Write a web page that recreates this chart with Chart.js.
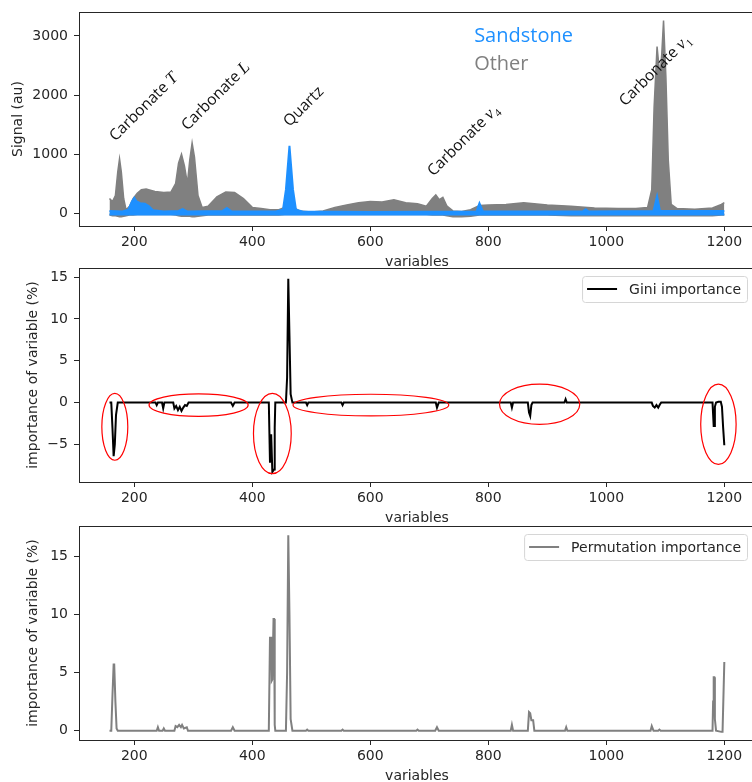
<!DOCTYPE html>
<html>
<head>
<meta charset="utf-8">
<script src="https://cdn.jsdelivr.net/npm/chart.js@4.4.0/dist/chart.umd.min.js"></script>
<style>
    html, body { margin: 0; padding: 0; background: #ffffff; overflow: hidden; width: 752px; height: 782px; }
    .panel { position: absolute; left: 0; }
</style>
</head>
<body>
<canvas id="spectra" class="panel" style="top:0px" width="760" height="271"></canvas>
<canvas id="gini" class="panel" style="top:256px" width="760" height="271"></canvas>
<canvas id="perm" class="panel" style="top:514px" width="760" height="271"></canvas>
<script>
// tick labels
const xTicks = [200, 400, 600, 800, 1000, 1200];
const signalTicks = [0, 1000, 2000, 3000];
const giniTicks = [-5, 0, 5, 10, 15];
const permTicks = [0, 5, 10, 15];

// top panel: spectra, drawn as envelopes of the overlapping curves
const otherX = [158, 163, 168, 172, 175, 178, 182, 186, 192, 198,
    205, 212, 220, 235, 250, 262, 270, 275, 280, 285,
    290, 294, 298, 302, 308, 315, 325, 340, 355, 370,
    385, 400, 415, 430, 445, 455, 460, 465, 470, 480,
    500, 520, 540, 560, 580, 600, 620, 640, 660, 680,
    695, 705, 711, 717, 723, 730, 740, 755, 770, 785,
    800, 830, 860, 900, 940, 980, 1020, 1050, 1070, 1077,
    1081, 1086, 1091, 1094, 1097, 1101, 1105, 1110, 1120, 1150,
    1180, 1195, 1200];
const otherHigh = [250, 200, 300, 700, 920, 700, 250, 60, 120, 250,
    340, 400, 410, 370, 350, 360, 500, 850, 1000, 800,
    500, 900, 1190, 950, 300, 100, 120, 280, 360, 350,
    250, 100, 80, 60, 60, 100, 150, 160, 100, 40,
    20, 40, 100, 140, 180, 200, 190, 230, 180, 160,
    120, 250, 310, 230, 270, 120, 40, 30, 60, 130,
    140, 150, 180, 140, 120, 90, 80, 80, 100, 400,
    1800, 2820, 2300, 2700, 3260, 2300, 900, 150, 80, 70,
    90, 150, 180];
const otherLow = [-30, -40, -40, -50, -60, -60, -50, -40, -30, -30,
    -20, -20, -20, -20, -20, -20, -30, -40, -50, -50,
    -50, -50, -60, -60, -50, -40, -30, -30, -30, -30,
    -30, -30, -30, -30, -30, -20, -20, -20, -20, -20,
    -20, -20, -20, -20, -20, -20, -20, -20, -20, -20,
    -20, -30, -30, -30, -30, -40, -60, -60, -50, -30,
    -30, -30, -30, -30, -40, -40, -40, -40, -40, -40,
    -40, -40, -40, -40, -40, -40, -40, -40, -40, -40,
    -40, -30, -30];

const sandX = [158, 180, 190, 196, 200, 204, 210, 218, 225, 232,
    250, 275, 282, 290, 350, 357, 365, 440, 452, 457,
    463, 469, 474, 485, 600, 780, 785, 791, 960, 965,
    970, 1080, 1086, 1091, 1200];
const sandHigh = [40, 30, 60, 200, 260, 200, 170, 160, 120, 50,
    30, 40, 70, 30, 40, 90, 30, 30, 60, 400,
    1140, 400, 60, 30, 20, 30, 170, 30, 30, 70,
    30, 40, 290, 40, 40];
const sandLow = [-20, -20, -15, -20, -20, -20, -20, -20, -20, -20,
    -20, -20, -15, -20, -20, -20, -20, -20, -20, -20,
    -20, -20, -20, -20, -20, -20, -20, -20, -20, -20,
    -20, -20, -20, -20, -20];

const groupNames = ['Sandstone', 'Other'];
const groupColors = ['#1e90ff', '#808080'];

// peak labels (baseline start, data coords)
const peakNames = ['Carbonate ', 'Carbonate ', 'Quartz', 'Carbonate ', 'Carbonate '];
const peakSymbols = ['T', 'L', '', '\u03BD', '\u03BD'];
const peakSubs = ['', '', '', '4', '1'];
const peakX = [168, 290, 463, 707, 1032];
const peakY = [1211, 1392, 1455, 619, 1804];

// middle panel: Gini importance
const giniX = [158, 161, 163, 165, 167, 169, 172, 236, 238, 240,
    247, 249, 251, 266, 268, 271, 274, 277, 280, 283,
    286, 289, 292, 364, 367, 370, 428, 430, 432, 433,
    434, 437, 438, 439, 457, 459, 461, 463, 465, 468,
    491, 493, 495, 551, 553, 555, 711, 713, 716, 838,
    840, 842, 867, 869, 871, 873, 875, 929, 931, 933,
    1077, 1079, 1082, 1085, 1088, 1091, 1093, 1180, 1182, 1183,
    1184, 1186, 1190, 1194, 1196, 1198, 1200];
const giniValues = [0, 0, -3, -6.4, -5, -1.5, 0, 0, -0.3, 0,
    0, -0.7, 0, 0, -0.7, -0.4, -0.9, -0.5, -1.0, -0.6,
    -0.3, -0.4, 0, 0, -0.4, 0, 0, -7.2, -3.8, -3.8,
    -8.3, -8.0, -3, 0, 0, 3, 14.8, 8, 1, 0,
    0, -0.3, 0, 0, -0.3, 0, 0, -0.6, 0, 0,
    -0.6, 0, 0, -1.2, -1.6, -0.3, 0, 0, 0.4, 0,
    0, -0.4, -0.6, -0.3, -0.6, -0.2, 0, 0, -2.8, -2.8,
    -0.5, 0, 0.1, 0.1, -0.5, -3, -5.1];

// red ellipses round the negative regions (centre, radii in data units)
const circleX = [167, 309, 434, 601, 887, 1190];
const circleY = [-2.9, -0.3, -3.7, -0.3, -0.2, -2.6];
const circleRx = [22, 84, 32, 132, 68, 30];
const circleRy = [4.0, 1.35, 4.8, 1.3, 2.4, 4.8];

// bottom panel: permutation importance
const permX = [158, 161, 163, 165, 166, 168, 170, 172, 238, 240,
    242, 248, 250, 252, 268, 270, 273, 276, 279, 281,
    284, 289, 291, 364, 367, 370, 428, 430, 432, 433,
    434, 436, 437, 438, 439, 457, 459, 461, 463, 465,
    468, 491, 493, 495, 551, 553, 555, 678, 680, 682,
    710, 713, 716, 838, 840, 842, 867, 869, 871, 873,
    876, 878, 930, 932, 934, 1075, 1077, 1080, 1088, 1090,
    1092, 1180, 1181, 1182, 1183, 1184, 1186, 1195, 1197, 1200];
const permValues = [0, 0, 3, 5.7, 5.7, 2.5, 0.2, 0, 0, 0.3,
    0, 0, 0.2, 0, 0, 0.4, 0.3, 0.5, 0.3, 0.5,
    0.2, 0.3, 0, 0, 0.3, 0, 0, 8.0, 8.0, 4.3,
    4.4, 9.6, 9.6, 0.5, 0, 0, 5, 16.8, 10, 1,
    0, 0, 0.1, 0, 0, 0.1, 0, 0, 0.1, 0,
    0, 0.3, 0, 0, 0.5, 0, 0, 1.6, 1.5, 0.9,
    0.9, 0, 0, 0.3, 0, 0, 0.4, 0, 0, 0.1,
    0, 0, 2.5, 4.6, 4.6, 1, 0, -0.1, -0.1, 5.9];

const tickFont = { family: '"DejaVu Sans", sans-serif', size: 14 };
const yTickFont = { family: '"DejaVu Sans", sans-serif', size: 14, lineHeight: 0.8 };
const inkColor = '#262626';

function points(xs, ys) {
    return xs.map((x, i) => ({ x: x, y: ys[i] }));
}

function fmt(value) {
    return value < 0 ? '\u2212' + Math.abs(value) : String(value);
}

function baseOptions(yMin, yMax, yTicks, yTitle, yTitlePad) {
    return {
        responsive: false,
        animation: false,
        devicePixelRatio: 1,
        layout: { padding: { left: 0, top: 12, right: 5, bottom: 0 } },
        elements: { point: { radius: 0 }, line: { tension: 0 } },
        plugins: { legend: { display: false }, tooltip: { enabled: false } },
        scales: {
            x: {
                type: 'linear', min: 106.3, max: 1252,
                afterBuildTicks: s => { s.ticks = xTicks.map(v => ({ value: v })); },
                afterFit: s => { s.height = 45; },
                grid: { drawOnChartArea: false, tickLength: 5, color: inkColor },
                border: { display: false },
                ticks: { font: tickFont, color: inkColor, padding: 3, maxRotation: 0, autoSkip: false, callback: fmt },
                title: { display: true, text: 'variables', font: tickFont, color: inkColor, padding: 0 }
            },
            y: {
                type: 'linear', min: yMin, max: yMax,
                afterBuildTicks: s => { s.ticks = yTicks.map(v => ({ value: v })); },
                afterFit: s => { s.width = 79; },
                grid: { drawOnChartArea: false, tickLength: 5, color: inkColor },
                border: { display: false },
                ticks: { font: yTickFont, color: inkColor, padding: 6, autoSkip: false, callback: fmt },
                title: { display: true, text: yTitle, font: tickFont, color: inkColor, padding: { top: yTitlePad, bottom: 0 } }
            }
        }
    };
}

// axes frame on all four sides
const framePlugin = {
    id: 'frame',
    afterDraw(chart) {
        const a = chart.chartArea;
        const ctx = chart.ctx;
        ctx.save();
        ctx.strokeStyle = inkColor;
        ctx.lineWidth = 1;
        ctx.strokeRect(Math.round(a.left) + 0.5, Math.round(a.top) + 0.5,
            Math.round(a.right - a.left), Math.round(a.bottom - a.top));
        ctx.restore();
    }
};

// small boxed legend in the upper right corner
const boxLegendPlugin = {
    id: 'boxLegend',
    afterDraw(chart) {
        const ds = chart.data.datasets[0];
        const ctx = chart.ctx;
        const a = chart.chartArea;
        ctx.save();
        ctx.font = '14px "DejaVu Sans"';
        const tw = ctx.measureText(ds.label).width;
        const w = 5 + 30 + 12 + tw + 6;
        const h = 26;
        const right = a.right - 8;
        const left = right - w;
        const top = a.top + 8;
        ctx.beginPath();
        ctx.roundRect(left + 0.5, top + 0.5, w, h, 3);
        ctx.fillStyle = 'rgba(255,255,255,0.8)';
        ctx.fill();
        ctx.strokeStyle = '#d6d6d6';
        ctx.lineWidth = 1;
        ctx.stroke();
        ctx.beginPath();
        ctx.moveTo(left + 5, top + h / 2);
        ctx.lineTo(left + 35, top + h / 2);
        ctx.strokeStyle = ds.borderColor;
        ctx.lineWidth = 2;
        ctx.stroke();
        ctx.fillStyle = inkColor;
        ctx.textBaseline = 'middle';
        ctx.fillText(ds.label, left + 47, top + h / 2 + 1);
        ctx.restore();
    }
};

const peakLabelPlugin = {
    id: 'peakLabels',
    afterDatasetsDraw(chart) {
        const ctx = chart.ctx;
        const xs = chart.scales.x, ys = chart.scales.y;
        ctx.save();
        ctx.fillStyle = '#111111';
        ctx.textBaseline = 'alphabetic';
        peakNames.forEach((name, i) => {
            ctx.save();
            ctx.translate(xs.getPixelForValue(peakX[i]), ys.getPixelForValue(peakY[i]));
            ctx.rotate(-Math.PI / 4);
            ctx.font = '15.5px "Open Sans"';
            ctx.fillText(name, 0, 0);
            let off = ctx.measureText(name).width;
            if (peakSymbols[i]) {
                ctx.font = 'italic 17px "Liberation Serif"';
                ctx.fillText(peakSymbols[i], off, 0);
                off += ctx.measureText(peakSymbols[i]).width;
            }
            if (peakSubs[i]) {
                ctx.font = '11px "Liberation Serif"';
                ctx.fillText(peakSubs[i], off + 0.5, 4);
            }
            ctx.restore();
        });
        // group names
        const gx = xs.getPixelForValue(776);
        ctx.font = '20px "Open Sans"';
        ctx.fillStyle = groupColors[0];
        ctx.fillText(groupNames[0], gx, ys.getPixelForValue(2900));
        ctx.fillStyle = groupColors[1];
        ctx.fillText(groupNames[1], gx, ys.getPixelForValue(2430));
        ctx.restore();
    }
};

const ellipsePlugin = {
    id: 'ellipses',
    afterDatasetsDraw(chart) {
        const ctx = chart.ctx;
        const xs = chart.scales.x, ys = chart.scales.y;
        ctx.save();
        ctx.strokeStyle = '#ff0000';
        ctx.lineWidth = 1.2;
        circleX.forEach((cx, i) => {
            const px = xs.getPixelForValue(cx);
            const py = ys.getPixelForValue(circleY[i]);
            const rx = xs.getPixelForValue(cx + circleRx[i]) - px;
            const ry = py - ys.getPixelForValue(circleY[i] + circleRy[i]);
            ctx.beginPath();
            ctx.ellipse(px, py, rx, ry, 0, 0, Math.PI * 2);
            ctx.stroke();
        });
        ctx.restore();
    }
};

document.addEventListener('DOMContentLoaded', function() {

    new Chart(document.getElementById('spectra').getContext('2d'), {
        type: 'line',
        data: {
            datasets: [
                { label: groupNames[0], data: points(sandX, sandHigh), borderColor: groupColors[0], borderWidth: 2,
                  backgroundColor: groupColors[0], fill: '+1' },
                { label: groupNames[0], data: points(sandX, sandLow), borderColor: groupColors[0], borderWidth: 2, fill: false },
                { label: groupNames[1], data: points(otherX, otherHigh), borderColor: groupColors[1], borderWidth: 1.5,
                  backgroundColor: groupColors[1], fill: '+1' },
                { label: groupNames[1], data: points(otherX, otherLow), borderColor: groupColors[1], borderWidth: 1.5, fill: false }
            ]
        },
        options: baseOptions(-215, 3406, signalTicks, 'Signal (au)', 10),
        plugins: [framePlugin, peakLabelPlugin]
    });

    new Chart(document.getElementById('gini').getContext('2d'), {
        type: 'line',
        data: {
            datasets: [{ label: 'Gini importance', data: points(giniX, giniValues), borderColor: '#000000', borderWidth: 2, fill: false }]
        },
        options: baseOptions(-9.5, 16.1, giniTicks, 'importance of variable (%)', 25),
        plugins: [framePlugin, ellipsePlugin, boxLegendPlugin]
    });

    new Chart(document.getElementById('perm').getContext('2d'), {
        type: 'line',
        data: {
            datasets: [{ label: 'Permutation importance', data: points(permX, permValues), borderColor: '#808080', borderWidth: 2, fill: false }]
        },
        options: baseOptions(-0.8, 17.6, permTicks, 'importance of variable (%)', 25),
        plugins: [framePlugin, boxLegendPlugin]
    });
});
</script>
</body>
</html>
